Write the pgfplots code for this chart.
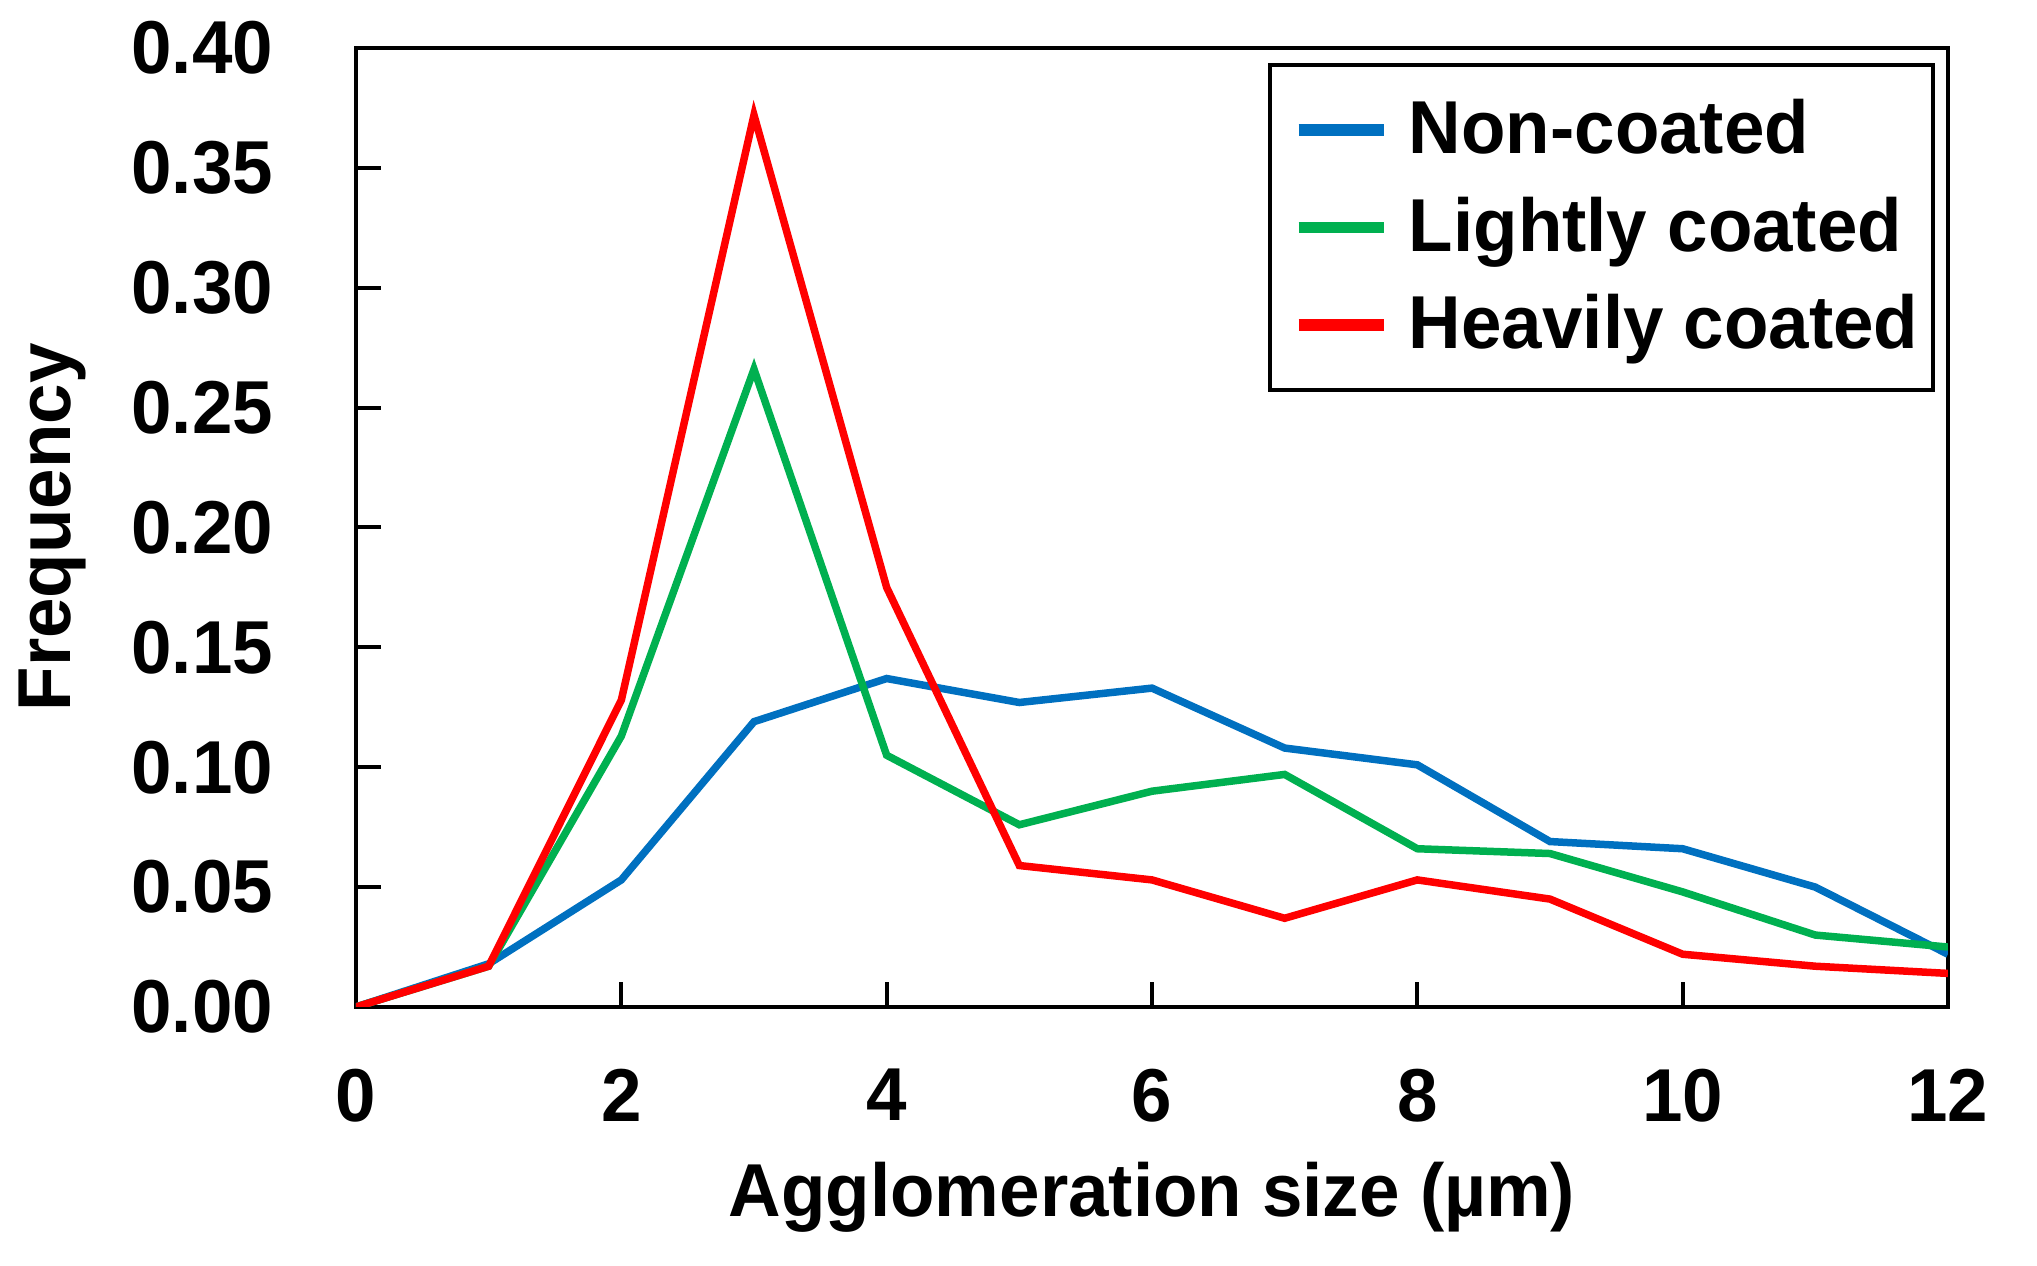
\documentclass[border=0pt]{standalone}
\usepackage{fontspec}
\setmainfont{Liberation Sans}[FakeStretch=0.97]
\usepackage{pgfplots}
\pgfplotsset{compat=1.18}

\definecolor{noncoat}{RGB}{0,112,192}
\definecolor{lightcoat}{RGB}{0,176,80}
\definecolor{heavycoat}{RGB}{255,0,0}
\newcommand{\lbl}{\fontsize{15}{18}\selectfont\bfseries}

\begin{document}
\begin{tikzpicture}
\path[use as bounding box] (-71.2pt,-51.8pt) rectangle (336.2pt,201.4pt);
\begin{axis}[
  scale only axis, width=318.4pt, height=191.8pt,
  xmin=0, xmax=12, ymin=0, ymax=0.4,
  xtick={0,2,4,6,8,10,12},
  ytick={0,0.05,0.10,0.15,0.20,0.25,0.30,0.35,0.40},
  axis line style={line width=0.8pt},
  tick align=inside, major tick length=5pt,
  tick style={black, line width=0.8pt},
  xtick pos=bottom, ytick pos=left,
  ticklabel style={font=\lbl},
  yticklabel style={anchor=east, inner sep=0pt, xshift=-16.4pt},
  xticklabel style={anchor=north, inner sep=0pt, yshift=-12.2pt},
  /pgf/number format/assume math mode=true,
  yticklabel={\pgfmathprintnumber[fixed,fixed zerofill,precision=2]{\tick}},
  xlabel={Agglomeration size (µm)},
  ylabel={Frequency},
  every axis x label/.style={at={(rel axis cs:0.5,0)}, anchor=base, yshift=-42pt, font=\lbl},
  every axis y label/.style={at={(rel axis cs:-0.1796,0.5)}, rotate=90, anchor=base, font=\lbl},
  legend cell align=left,
  legend style={at={(rel axis cs:0.9918,0.9844)}, anchor=north east,
    draw=black, line width=0.8pt, inner xsep=2.9pt, inner ysep=5.8pt,
    row sep=5.1pt, font=\lbl,
    nodes={inner sep=0pt, text height=12pt, text depth=2.4pt},
    /tikz/every odd column/.append style={column sep=3.9pt}},
  legend image code/.code={\path (0pt,0pt); \draw[#1, line width=2.3pt] (2.0pt,0pt) -- (19.0pt,0pt);},
]
\addplot[noncoat, line width=1.5pt] coordinates {
  (0,0) (1,0.018) (2,0.053) (3,0.119) (4,0.137) (5,0.127) (6,0.133)
  (7,0.108) (8,0.101) (9,0.069) (10,0.066) (11,0.050) (12,0.022)};
\addplot[lightcoat, line width=1.5pt] coordinates {
  (0,0) (1,0.017) (2,0.113) (3,0.266) (4,0.105) (5,0.076) (6,0.090)
  (7,0.097) (8,0.066) (9,0.064) (10,0.048) (11,0.030) (12,0.025)};
\addplot[heavycoat, line width=1.5pt] coordinates {
  (0,0) (1,0.017) (2,0.128) (3,0.372) (4,0.175) (5,0.059) (6,0.053)
  (7,0.037) (8,0.053) (9,0.045) (10,0.022) (11,0.017) (12,0.014)};
\legend{Non-coated, Lightly coated, Heavily coated}
\end{axis}
\end{tikzpicture}
\end{document}
